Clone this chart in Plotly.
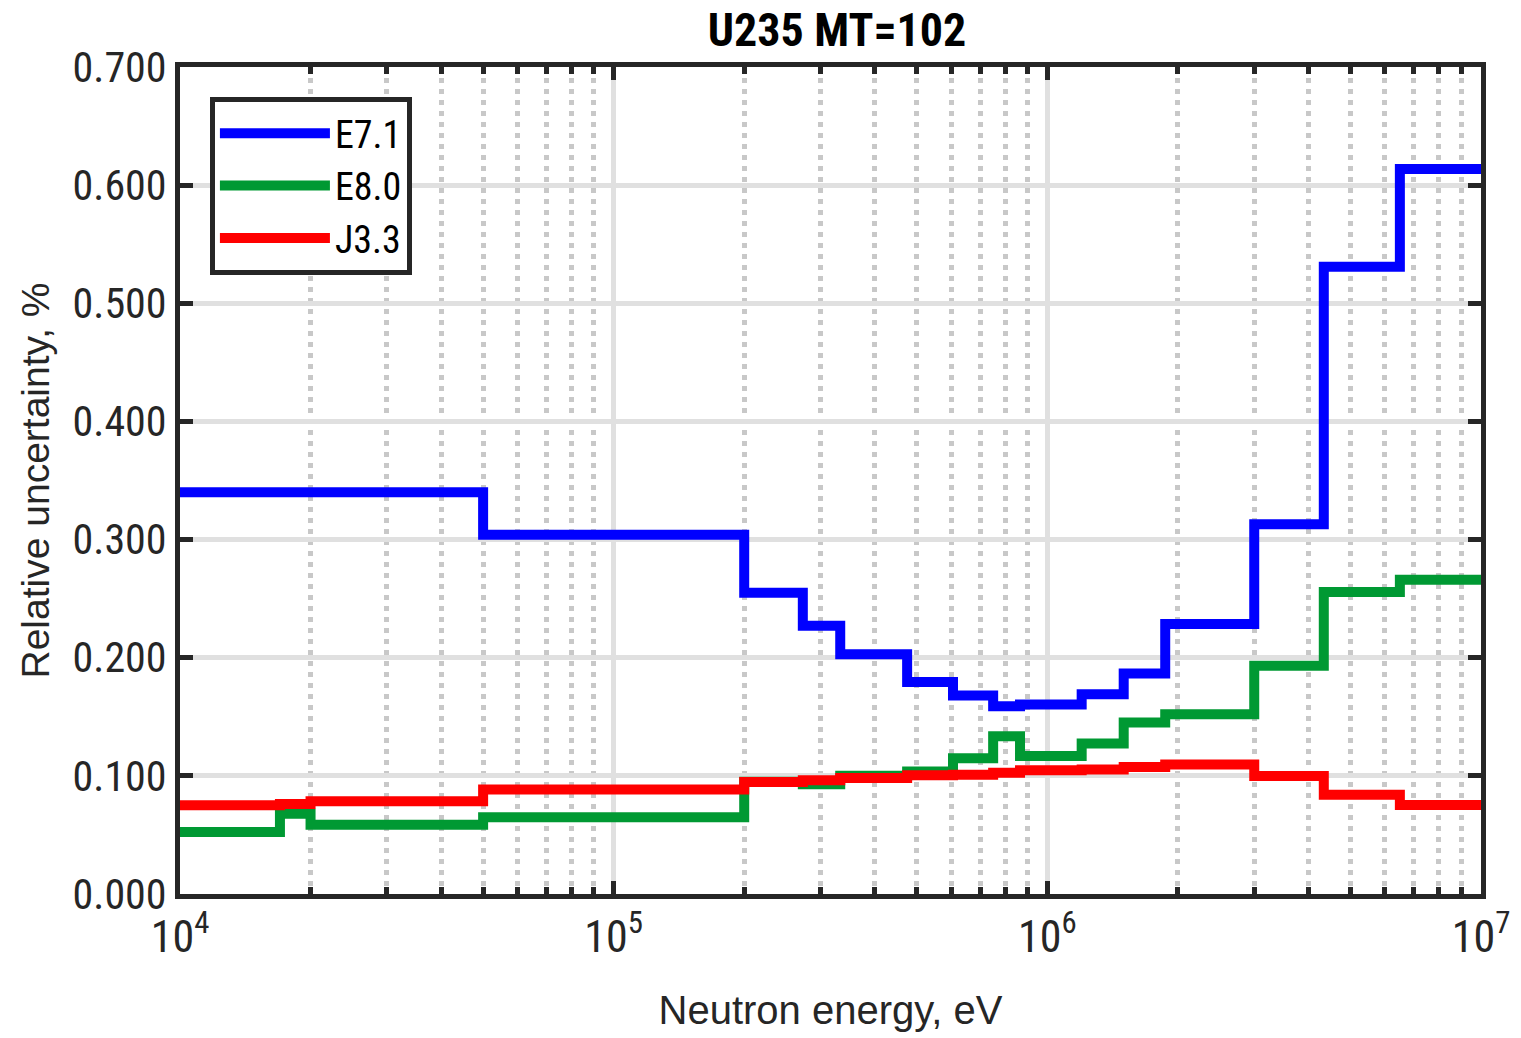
import plotly.graph_objects as go

# Energy group boundaries (eV)
edges = [1e4, 1.7e4, 2e4, 5e4, 2e5, 2.73e5, 3.33e5, 4.75e5, 6.06e5, 7.5e5,
         8.65e5, 1.2e6, 1.5e6, 1.87e6, 3e6, 4.34e6, 6.5e6, 1e7]

# Relative uncertainty per group (%)
e71 = [0.340, 0.340, 0.340, 0.304, 0.255, 0.227, 0.203, 0.1795, 0.168, 0.159,
       0.1605, 0.169, 0.1866, 0.2286, 0.313, 0.531, 0.6136]
e80 = [0.0525, 0.068, 0.0587, 0.065, 0.095, 0.093, 0.100, 0.1036, 0.115, 0.1335,
       0.1168, 0.1273, 0.1452, 0.1522, 0.1932, 0.2557, 0.266]
j33 = [0.0751, 0.0762, 0.0785, 0.0885, 0.0948, 0.0963, 0.0982, 0.1005, 0.101, 0.1026,
       0.1047, 0.1054, 0.1075, 0.1097, 0.0998, 0.0841, 0.0754]

names = ["E7.1", "E8.0", "J3.3"]
colors = ["#0000ff", "#009933", "#ff0000"]
series = [e71, e80, j33]

x_ticks = [1e4, 1e5, 1e6, 1e7]
x_ticktext = ["10<sup>4</sup>", "10<sup>5</sup>", "10<sup>6</sup>", "10<sup>7</sup>"]
y_ticks = [0.0, 0.1, 0.2, 0.3, 0.4, 0.5, 0.6, 0.7]

NARROW = "Liberation Sans Narrow, Arial Narrow, Roboto Condensed, Roboto, sans-serif"
REG = "Liberation Sans, Arial, Helvetica, sans-serif"
AX = "#262626"

fig = go.Figure()
for name, col, vals in zip(names, colors, series):
    fig.add_trace(go.Scatter(
        x=edges, y=vals + [vals[-1]], mode="lines", name=name,
        line=dict(color=col, width=10, shape="hv"),
    ))

fig.update_layout(
    width=1521, height=1038,
    margin=dict(l=180, r=40, t=67, b=144),
    paper_bgcolor="white", plot_bgcolor="white",
    font=dict(family=NARROW, size=40, color=AX),
    title=dict(text="<b>U235 MT=102</b>", x=0.5503, xanchor="center",
               y=0.971, yanchor="middle",
               font=dict(family=NARROW, size=46, color="black")),
    showlegend=True,
    legend=dict(x=0.023, y=0.9637, xanchor="left", yanchor="top",
                bgcolor="white", bordercolor=AX, borderwidth=5,
                font=dict(family=NARROW, size=38, color="black"),
                itemwidth=110, tracegroupgap=0),
    xaxis=dict(
        type="log", range=[4, 7],
        title=dict(text="Neutron energy, eV", font=dict(family=REG, size=40, color=AX), standoff=36),
        showline=True, linewidth=5, linecolor=AX, mirror="allticks",
        ticks="inside", ticklen=13, tickwidth=5, tickcolor=AX,
        tickvals=x_ticks, ticktext=x_ticktext,
        showgrid=True, gridcolor="#e0e0e0", gridwidth=5,
        minor=dict(dtick="D1", showgrid=True, gridcolor="#c8c8c8", gridwidth=5,
                   griddash="5px,6px", ticks="inside", ticklen=7, tickwidth=5,
                   tickcolor=AX),
        zeroline=False, tickfont=dict(size=44, color=AX),
    ),
    yaxis=dict(
        range=[0, 0.7],
        title=dict(text="Relative uncertainty, %", font=dict(family=REG, size=39, color=AX), standoff=12),
        showline=True, linewidth=5, linecolor=AX, mirror="allticks",
        ticks="inside", ticklen=13, tickwidth=5, tickcolor=AX,
        tickvals=y_ticks, tickformat=".3f",
        showgrid=True, gridcolor="#e0e0e0", gridwidth=5,
        zeroline=False, tickfont=dict(size=42, color=AX),
    ),
)

fig.write_html("out.html")
